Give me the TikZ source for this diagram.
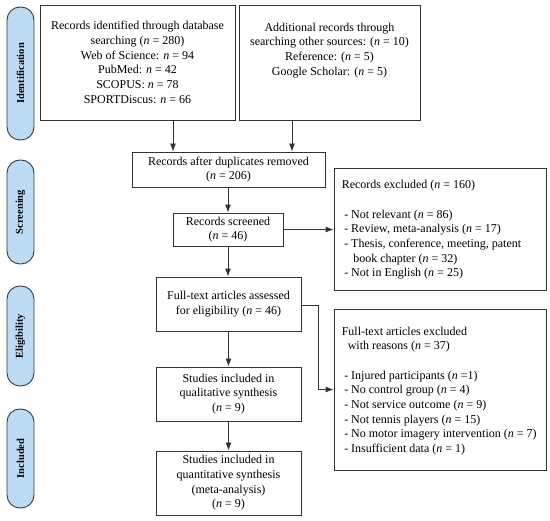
\documentclass[tikz,border=0pt]{standalone}
\usepackage{fontspec}
\setmainfont{Liberation Serif}
\usetikzlibrary{arrows.meta,calc}
\newcommand\nn{\textit{n}}
\definecolor{sidefill}{HTML}{BDDCF4}
\definecolor{sidedraw}{HTML}{2E3A48}
\definecolor{boxdraw}{HTML}{333333}
\begin{document}
\begin{tikzpicture}[x=1pt,y=-1pt,
  txt/.style={font=\fontsize{12}{14.7}\selectfont},
  box/.style={draw=boxdraw,line width=0.9pt,fill=white,inner sep=3pt,align=center,txt},
  exbox/.style={draw=boxdraw,line width=0.9pt,inner sep=0pt,txt},
  side/.style={draw=sidedraw,line width=0.9pt,fill=sidefill,rounded corners=13pt,
    rotate=90,minimum height=27pt,inner sep=0pt,font=\fontsize{10.5}{12}\selectfont\bfseries},
  arr/.style={draw=boxdraw,line width=0.9pt,-{Latex[length=8pt,width=6pt]}}]
\useasboundingbox (0,0) rectangle (550,521);
\fill[white] (0,0) rectangle (550,521);

% side labels
\node[side,minimum width=133pt] (sid) at (20.5,73.5) {Identification};
\node[side,minimum width=104pt] (ssc) at (20.5,212) {Screening};
\node[side,minimum width=100pt] (sel) at (20.5,336) {Eligibility};
\node[side,minimum width=99pt] (sin) at (20.5,458.5) {Included};

% boxes
\node[box,minimum width=195pt,minimum height=115pt] (b1) at (137.5,62.5)
  {Records identified through database\\ searching (\nn{} = 280)\\ Web of Science: \nn{} = 94\\ PubMed: \nn{} = 42\\ SCOPUS: \nn{} = 78\\ SPORTDiscus: \nn{} = 66};
\node[box,minimum width=181pt,minimum height=115pt] (b2) at (329.5,62.5) {};
\node[align=center,txt,anchor=north,inner sep=0pt] (b2t) at ([yshift=-18pt]b2.north)
  {Additional records through\\ searching other sources: (\nn{} = 10)\\ Reference: (\nn{} = 5)\\ Google Scholar: (\nn{} = 5)};
\node[box,minimum width=193pt,minimum height=35pt] (b3) at (228.5,169.5)
  {Records after duplicates removed\\ (\nn{} = 206)};
\node[box,minimum width=110pt,minimum height=33pt] (b4) at (228,229.5)
  {Records screened\\ (\nn{} = 46)};
\node[box,minimum width=145pt,minimum height=54pt] (b5) at (228.5,304)
  {Full-text articles assessed\\ for eligibility (\nn{} = 46)};
\node[box,minimum width=145pt,minimum height=54pt] (b6) at (228.5,394)
  {Studies included in\\ qualitative synthesis\\ (\nn{} = 9)};
\node[box,minimum width=145pt,minimum height=64pt] (b7) at (228.5,483)
  {Studies included in\\ quantitative synthesis\\ (meta-analysis)\\ (\nn{} = 9)};

% exclusion boxes
\node[exbox,minimum width=212pt,minimum height=122pt] (e1) at (440,229) {};
\node[txt,align=left,anchor=west,inner sep=0pt] (e1t) at ([xshift=8pt,yshift=-1pt]e1.west)
  {Records excluded (\nn{} = 160)\\[14.7pt]
   \hspace*{2.5pt}- Not relevant (\nn{} = 86)\\
   \hspace*{2.5pt}- Review, meta-analysis (\nn{} = 17)\\
   \hspace*{2.5pt}- Thesis, conference, meeting, patent\\
   \hspace*{11.5pt}book chapter (\nn{} = 32)\\
   \hspace*{2.5pt}- Not in English (\nn{} = 25)};
\node[exbox,minimum width=212pt,minimum height=161pt] (e2) at (440,389.5) {};
\node[txt,align=left,anchor=west,inner sep=0pt] (e2t) at ([xshift=8pt,yshift=-1.5pt]e2.west)
  {Full-text articles excluded\\
   \hspace*{6pt}with reasons (\nn{} = 37)\\[14.7pt]
   \hspace*{2.5pt}- Injured participants (\nn{} =1)\\
   \hspace*{2.5pt}- No control group (\nn{} = 4)\\
   \hspace*{2.5pt}- Not service outcome (\nn{} = 9)\\
   \hspace*{2.5pt}- Not tennis players (\nn{} = 15)\\
   \hspace*{2.5pt}- No motor imagery intervention (\nn{} = 7)\\
   \hspace*{2.5pt}- Insufficient data (\nn{} = 1)};

% connectors
\draw[arr] ([xshift=35.5pt]b1.south) -- ([xshift=35.5pt]b1.south |- b3.north);
\draw[arr] ([xshift=-37.5pt]b2.south) -- ([xshift=-37.5pt]b2.south |- b3.north);
\draw[arr] (b3.south -| b4.north) -- (b4.north);
\draw[arr] (b4.east) -- (b4.east -| e1.west);
\draw[arr] (b4.south) -- (b4.south |- b5.north);
\draw[arr] (b5.south) -- (b6.north);
\draw[arr] (b6.south) -- (b7.north);
\coordinate (c5) at ([xshift=17pt,yshift=-1pt]b5.east);
\draw[arr] ([yshift=-1pt]b5.east) -- (c5) |- (e2.west);
\end{tikzpicture}
\end{document}
